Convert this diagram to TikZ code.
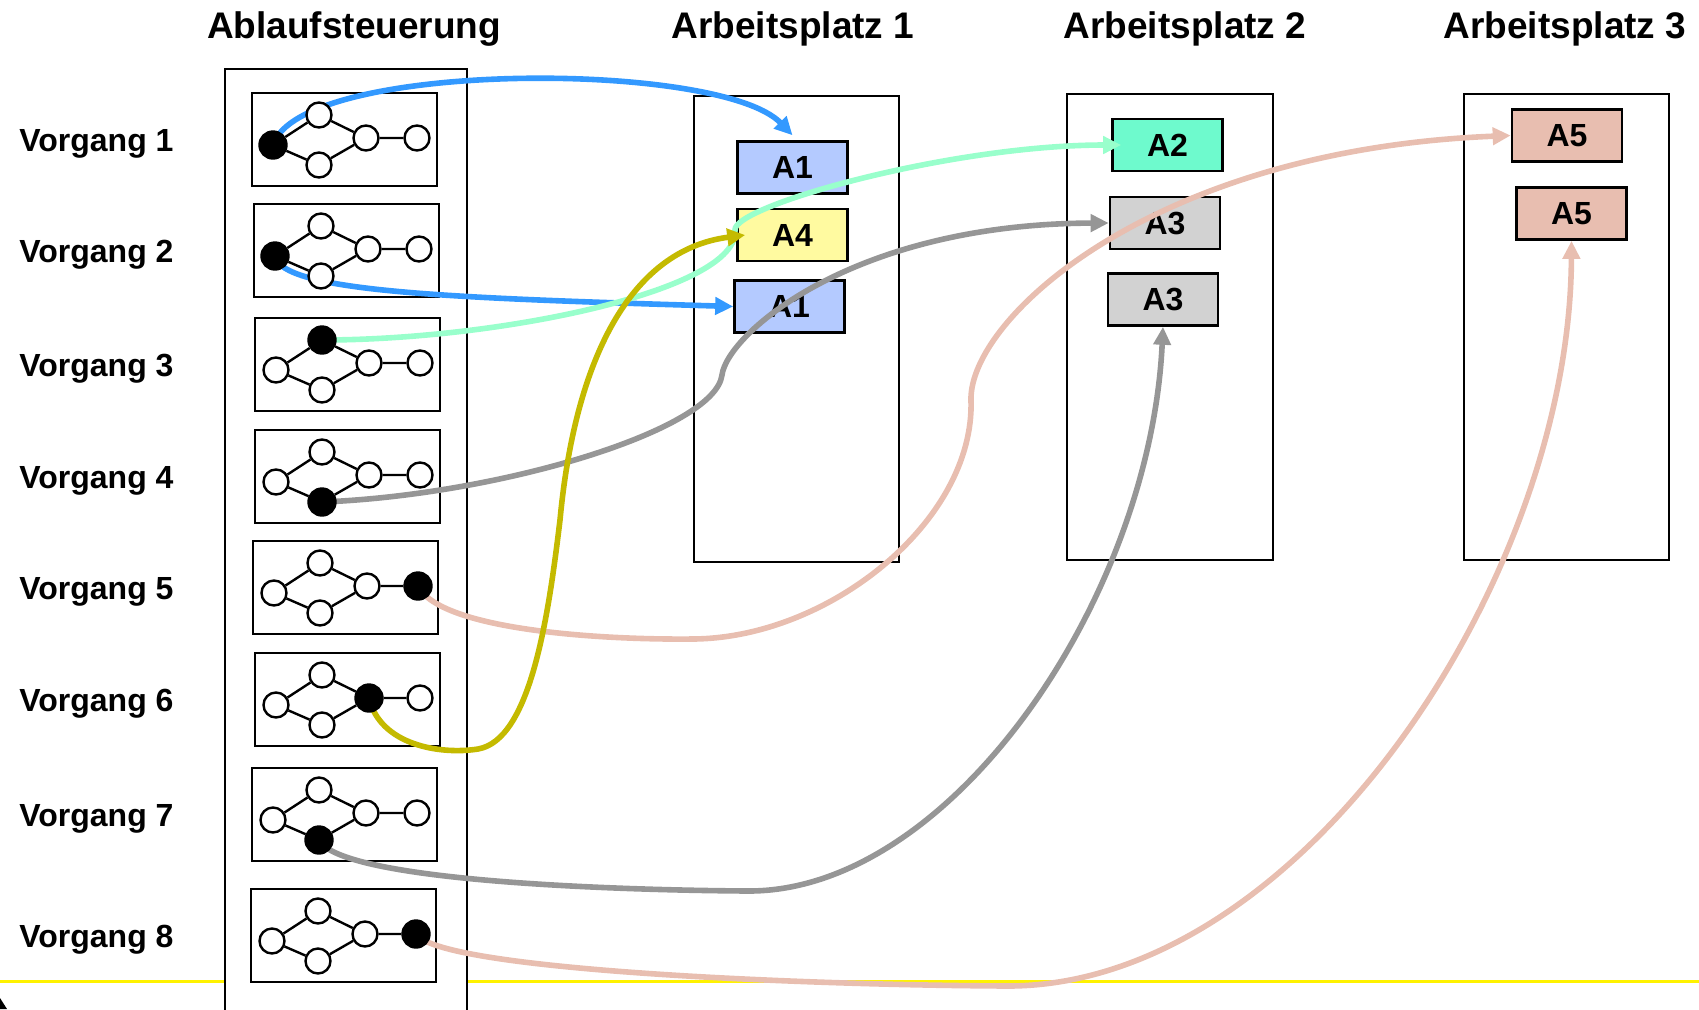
\documentclass[tikz,border=0pt]{standalone}
\usepackage{fontspec}
\setmainfont{Liberation Sans}
\usetikzlibrary{arrows.meta}
\definecolor{blue1}{RGB}{51, 153, 255}
\definecolor{mint1}{RGB}{153, 255, 204}
\definecolor{olive1}{RGB}{196, 186, 0}
\definecolor{gray1}{RGB}{150, 150, 150}
\definecolor{salmon1}{RGB}{232, 190, 176}
\definecolor{ablue}{RGB}{180, 202, 255}
\definecolor{ayellow}{RGB}{255, 250, 160}
\definecolor{amint}{RGB}{110, 250, 205}
\definecolor{agray}{RGB}{210, 210, 210}
\pgfdeclarelayer{front}
\pgfsetlayers{main,front}

\begin{document}
\begin{tikzpicture}[x=0.5pt, y=-0.5pt,
    title/.style={font=\fontsize{18.5}{22}\selectfont\bfseries, anchor=base, inner sep=0pt},
    vlabel/.style={font=\fontsize{16}{18}\selectfont\bfseries, anchor=base west, inner sep=0pt},
    frame/.style={draw, line width=1.3pt},
    task/.style={rectangle, draw, line width=1.3pt, minimum width=92.5pt, minimum height=46.5pt},
    knot/.style={circle, draw, fill=white, line width=1.2pt, minimum size=12.5pt, inner sep=0pt},
    kl/.style={}, kt/.style={}, kb/.style={}, km/.style={}, ke/.style={},
    job/.style={rectangle, draw, line width=1.3pt, minimum width=55pt, minimum height=26pt, font=\fontsize{16}{18}\selectfont\bfseries},
    flow/.style={line width=2.8pt, -{Triangle[length=9pt, width=8.5pt]}}]
    \useasboundingbox (0,0) rectangle (1699,1009);
    \draw[yellow, line width=1.5pt] (0,981) -- (1699,981);
    \fill (0,998) -- (7,1009) -- (0,1009) -- cycle;
    \draw[frame, fill=white] (225,69) rectangle (467,1030);
    % titles
    \node[title] (t0) at (354,38) {Ablaufsteuerung};
    \node[title] (t1) at (793,38) {Arbeitsplatz 1};
    \node[title] (t2) at (1185,38) {Arbeitsplatz 2};
    \node[title] (t3) at (1565,38) {Arbeitsplatz 3};
    % Vorgaenge
    \foreach \i/\bx/\by/\f in {1/252/93/l, 2/254/204/l, 3/255/318/t, 4/255/430/b,
                               5/253/541/e, 6/255/653/m, 7/252/768/b, 8/251/889/e}{
        \node[task] (v\i) at (\bx+92.5, \by+46.5) {};
        \node[vlabel] (l\i) at (19, \by+58.5) {Vorgang \i};
        \begin{pgfonlayer}{front}
        \begin{scope}[shift={(\bx,\by)}, k\f/.style={fill=black, minimum size=13.5pt}]
            \node[knot, kl] (v\i-l) at (21,52) {};
            \node[knot, kt] (v\i-t) at (67,22) {};
            \node[knot, kb] (v\i-b) at (67,72) {};
            \node[knot, km] (v\i-m) at (114,45) {};
            \node[knot, ke] (v\i-e) at (165,45) {};
            \draw[line width=1.2pt] (v\i-l) -- (v\i-t) (v\i-l) -- (v\i-b) (v\i-t) -- (v\i-m)
                (v\i-b) -- (v\i-m) (v\i-m) -- (v\i-e);
        \end{scope}
        \end{pgfonlayer}
    }
    % Arbeitsplaetze
    \draw[frame] (694,96) rectangle (899,562);
    \draw[frame] (1067,94) rectangle (1273,560);
    \draw[frame] (1464,94) rectangle (1669,560);
    \node[job, fill=ablue] (a1) at (792.5,167.5) {A1};
    \node[job, fill=ayellow] (a4) at (792.5,235) {A4};
    \node[job, fill=ablue] (a1b) at (789.5,306.5) {A1};
    \node[job, fill=amint] (a2) at (1167.5,145) {A2};
    \node[job, fill=agray] (a3) at (1165,223) {A3};
    \node[job, fill=agray] (a3b) at (1163,299.5) {A3};
    \node[job, fill=salmon1] (a5) at (1567,135.5) {A5};
    \node[job, fill=salmon1] (a5b) at (1571.5,213.5) {A5};
    % Zuordnung
    \draw[flow, blue1] (v1-l.center) .. controls (300,60) and (720,60) .. ([yshift=2.5pt]a1.north);
    \draw[flow, blue1] (v2-l.center) .. controls (282,292) and (450,298) .. (a1b.west);
    \draw[flow, mint1] (v3-t.center) .. controls (500,340) and (740,290) .. (735,230)
        .. controls (733,206) and (950,145) .. ([xshift=5pt]a2.west);
    \draw[flow, gray1] (v4-b.center) .. controls (500,495) and (715,430) .. (722,375)
        .. controls (727,335) and (850,224) .. (a3.west);
    \draw[flow, salmon1] (v5-e.center) .. controls (440,630) and (600,640) .. (693,639)
        .. controls (830,638) and (975,520) .. (971,400)
        .. controls (969,320) and (1150,150) .. (a5.west);
    \draw[flow, olive1] (v6-m.center) .. controls (380,745) and (440,755) .. (478,749)
        .. controls (530,740) and (548,620) .. (560,520)
        .. controls (575,360) and (630,250) .. ([xshift=4.5pt]a4.west);
    \draw[flow, gray1] (v7-b.center) .. controls (340,880) and (600,890) .. (748,891)
        .. controls (950,892) and (1150,600) .. (a3b.south);
    \draw[flow, salmon1] (v8-e.center) .. controls (440,970) and (800,985) .. (1008,986)
        .. controls (1300,986) and (1570,580) .. (a5b.south);
\end{tikzpicture}
\end{document}
